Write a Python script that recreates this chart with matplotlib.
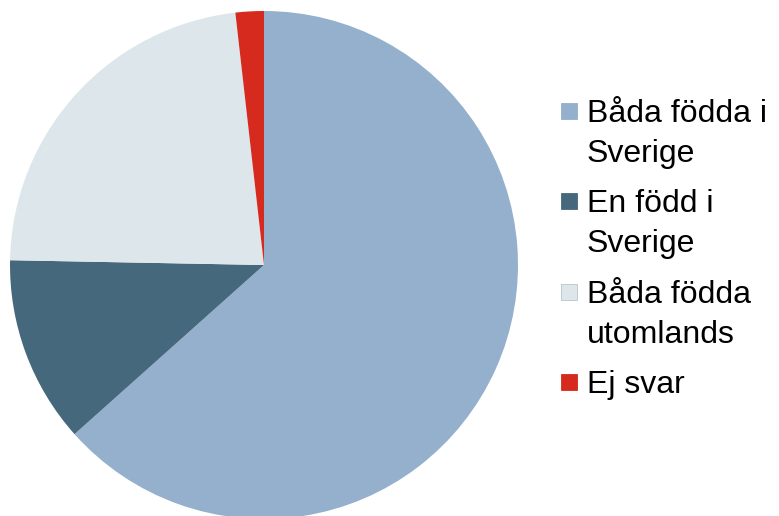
import matplotlib
matplotlib.use("Agg")
import matplotlib.pyplot as plt
from matplotlib.patches import Rectangle

labels = ["Båda födda i\nSverige", "En född i\nSverige", "Båda födda\nutomlands", "Ej svar"]
values = [63.4, 11.9, 22.9, 1.8]
colors = ["#94B0CD", "#46687C", "#DCE6EB", "#D62A1E"]

W, H = 779, 516
fig = plt.figure(figsize=(W / 100, H / 100), dpi=100)
fig.patch.set_facecolor("white")

cx, cy, r = 264, 265, 254
ax = fig.add_axes([(cx - r) / W, (H - cy - r) / H, 2 * r / W, 2 * r / H])
ax.pie(values, colors=colors, startangle=90, counterclock=False, radius=1,
       wedgeprops=dict(linewidth=0, edgecolor="none"))
ax.set_xlim(-1, 1)
ax.set_ylim(-1, 1)
ax.set_aspect("equal")
ax.axis("off")

# legend drawn manually
first_baseline = 122
entry_gap = 90.3
line_gap = 40
sq_x, sq_size = 561, 16
txt_x = 587
for i, (lab, col) in enumerate(zip(labels, colors)):
    yb = first_baseline + i * entry_gap
    fig.patches.append(Rectangle((sq_x / W, (H - yb + 3) / H), sq_size / W, sq_size / H,
                                 transform=fig.transFigure, facecolor=col,
                                 edgecolor="#B8C4CC" if i == 2 else col, linewidth=0.6))
    for j, line in enumerate(lab.split("\n")):
        fig.text(txt_x / W, (H - (yb + j * line_gap)) / H, line,
                 fontsize=23, family="Liberation Sans", va="baseline", ha="left",
                 color="black")

fig.savefig("out.png", dpi=100)
